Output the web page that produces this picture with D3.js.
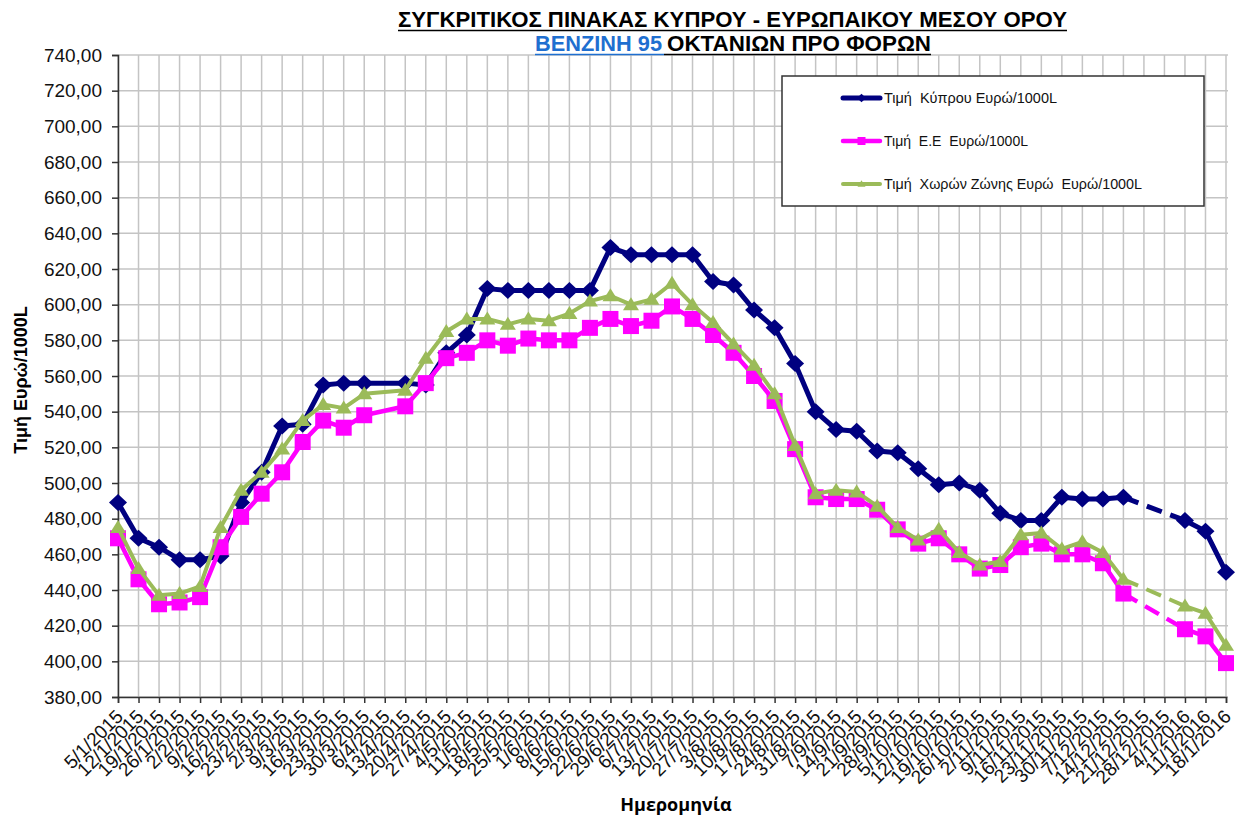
<!DOCTYPE html>
<html>
<head>
<meta charset="utf-8">
<script src="https://cdnjs.cloudflare.com/ajax/libs/d3/7.8.5/d3.min.js"></script>
<style>
body{margin:0;background:#fff;}
text{font-family:Arial,"Liberation Sans",sans-serif;}
</style>
</head>
<body>
<script>
// εβδομαδιαίες ημερομηνίες
var dates = ["5/1/2015","12/1/2015","19/1/2015","26/1/2015","2/2/2015","9/2/2015","16/2/2015","23/2/2015",
  "2/3/2015","9/3/2015","16/3/2015","23/3/2015","30/3/2015","6/4/2015","13/4/2015","20/4/2015","27/4/2015",
  "4/5/2015","11/5/2015","18/5/2015","25/5/2015","1/6/2015","8/6/2015","15/6/2015","22/6/2015","29/6/2015",
  "6/7/2015","13/7/2015","20/7/2015","27/7/2015","3/8/2015","10/8/2015","17/8/2015","24/8/2015","31/8/2015",
  "7/9/2015","14/9/2015","21/9/2015","28/9/2015","5/10/2015","12/10/2015","19/10/2015","26/10/2015",
  "2/11/2015","9/11/2015","16/11/2015","23/11/2015","30/11/2015","7/12/2015","14/12/2015","21/12/2015",
  "28/12/2015","4/1/2016","11/1/2016","18/1/2016"];

var cyprus = [489,469,464,457,457,459,489,506,532,533,555,556,556,null,556,555,573,583,609,608,608,608,608,608,
  632,628,628,628,628,613,611,597,587,567,540,530,529,518,517,508,499,500,496,483,479,479,492,491,491,492,
  null,null,479,473,450];
var eu = [469,446,432,433,436,464,481,494,506,523,535,531,538,null,543,556,570,573,580,577,581,580,580,587,
  592,588,591,599,592,583,573,560,546,519,492,491,491,485,474,466,469,460,452,454,464,466,460,460,455,438,
  null,null,418,414,399];
var zone = [475,452,437,438,442,475,496,506,519,535,544,542,550,null,552,570,585,592,592,589,592,591,595,602,
  605,600,603,612,600,590,578,566,550,521,494,496,495,487,475,468,474,461,454,456,471,472,463,467,461,446,
  null,null,431,427,409];

var seriesNames = ["Τιμή  Κύπρου Ευρώ/1000L","Τιμή  Ε.Ε  Ευρώ/1000L","Τιμή  Χωρών Ζώνης Ευρώ  Ευρώ/1000L"];
var yTicks = [380,400,420,440,460,480,500,520,540,560,580,600,620,640,660,680,700,720,740];
var dashedFrom = "14/12/2015"; // το κενό μετά από εδώ ενώνεται με διακεκομμένη

var width = 1238, height = 818;
var svg = d3.select("body").append("svg")
            .attr("width", width)
            .attr("height", height);

var x = d3.scalePoint().domain(dates).range([118, 1226]);
var y = d3.scaleLinear().domain([380, 740]).range([697, 55]);

var locale = d3.formatLocale({decimal: ",", thousands: ".", grouping: [3], currency: ["", "€"]});
var fmt = locale.format(".2f");

// πλέγμα
svg.append("g").selectAll("line.h").data(yTicks).enter().append("line")
   .attr("x1", 118).attr("x2", 1228)
   .attr("y1", function(d){ return y(d); }).attr("y2", function(d){ return y(d); })
   .attr("stroke", "#c4c4c4").attr("stroke-width", 1.5);
svg.append("g").selectAll("line.v").data(dates).enter().append("line")
   .attr("x1", function(d){ return x(d); }).attr("x2", function(d){ return x(d); })
   .attr("y1", 55).attr("y2", 697)
   .attr("stroke", "#c4c4c4").attr("stroke-width", 1.5);

// άξονες
var yAxis = svg.append("g").attr("transform", "translate(118,0)")
   .call(d3.axisLeft(y).tickValues(yTicks).tickSize(6).tickPadding(10).tickFormat(fmt));
yAxis.selectAll("text").attr("font-size", 19).attr("fill", "#111").style("font-family", "Arial, 'Liberation Sans'");

var xAxis = svg.append("g").attr("transform", "translate(0,697)")
   .call(d3.axisBottom(x).tickSize(6).tickFormat(""));
xAxis.selectAll(".tick").append("text")
   .attr("transform", "translate(1,16) rotate(-45)")
   .attr("text-anchor", "end")
   .attr("dy", "0.35em")
   .attr("font-size", 19)
   .attr("fill", "#111")
   .text(function(d){ return d; });

svg.selectAll(".domain").attr("stroke", "#333").attr("stroke-width", 1.5);
svg.selectAll(".tick line").attr("stroke", "#333").attr("stroke-width", 1.5);

// σειρές
var series = [
  {name: seriesNames[0], values: cyprus, color: "#000080", width: 5, shape: "diamond"},
  {name: seriesNames[1], values: eu, color: "#ff00ff", width: 4.5, shape: "square"},
  {name: seriesNames[2], values: zone, color: "#9bbb59", width: 4, shape: "triangle"}
];

var shapes = {
  diamond: "M0,-8.5L9,0L0,8.5L-9,0Z",
  square: "M-8,-8L8,-8L8,8L-8,8Z",
  triangle: "M0,-7.5L8,5.5L-8,5.5Z"
};

var line = d3.line()
  .x(function(p){ return x(p.d); })
  .y(function(p){ return y(p.v); });

series.forEach(function(s){
  var pts = dates.map(function(d, i){ return {d: d, v: s.values[i]}; })
                 .filter(function(p){ return p.v != null; });
  var k = pts.findIndex(function(p){ return p.d === dashedFrom; });
  var g = svg.append("g");
  [pts.slice(0, k + 1), pts.slice(k + 1)].forEach(function(part){
    g.append("path").attr("d", line(part))
     .attr("fill", "none").attr("stroke", s.color).attr("stroke-width", s.width)
     .attr("stroke-linejoin", "round");
  });
  g.append("path").attr("d", line(pts.slice(k, k + 2)))
   .attr("fill", "none").attr("stroke", s.color).attr("stroke-width", s.width)
   .attr("stroke-dasharray", "16,9");
  g.selectAll("path.m").data(pts).enter().append("path")
   .attr("d", shapes[s.shape])
   .attr("transform", function(p){ return "translate(" + x(p.d) + "," + y(p.v) + ")"; })
   .attr("fill", s.color);
});

// υπόμνημα
var legend = svg.append("g");
legend.append("rect").attr("x", 782).attr("y", 76).attr("width", 422).attr("height", 130)
      .attr("fill", "#fff").attr("stroke", "#333").attr("stroke-width", 1.5);
var legLens = [173, 144, 258];
series.forEach(function(s, i){
  var ly = 98 + i * 43;
  legend.append("line").attr("x1", 843).attr("x2", 880).attr("y1", ly).attr("y2", ly)
        .attr("stroke", s.color).attr("stroke-width", s.width).attr("stroke-linecap", "round");
  legend.append("path").attr("d", shapes[s.shape])
        .attr("transform", "translate(861.5," + ly + ") scale(0.5)").attr("fill", s.color);
  legend.append("text").attr("x", 884).attr("y", ly + 5)
        .attr("font-size", 14).attr("fill", "#111").style("white-space", "pre")
        .attr("textLength", legLens[i]).attr("lengthAdjust", "spacingAndGlyphs")
        .text(s.name);
});

// τίτλοι
svg.append("text").attr("x", 398).attr("y", 27)
   .attr("font-size", 22).attr("font-weight", "bold")
   .style("font-family", "'Liberation Sans Narrow', 'Arial Narrow', Arial")
   .attr("textLength", 669).attr("lengthAdjust", "spacingAndGlyphs")
   .text("ΣΥΓΚΡΙΤΙΚΟΣ ΠΙΝΑΚΑΣ ΚΥΠΡΟΥ - ΕΥΡΩΠΑΙΚΟΥ ΜΕΣΟΥ ΟΡΟΥ");
svg.append("line").attr("x1", 398).attr("x2", 1067).attr("y1", 30.5).attr("y2", 30.5)
   .attr("stroke", "#000").attr("stroke-width", 1.5);

svg.append("text").attr("x", 535).attr("y", 51)
   .attr("font-size", 22).attr("font-weight", "bold").attr("fill", "#1f6fd0")
   .style("font-family", "'Liberation Sans Narrow', 'Arial Narrow', Arial")
   .attr("textLength", 127).attr("lengthAdjust", "spacingAndGlyphs")
   .text("ΒΕΝΖΙΝΗ 95");
svg.append("text").attr("x", 667).attr("y", 51)
   .attr("font-size", 22).attr("font-weight", "bold")
   .style("font-family", "'Liberation Sans Narrow', 'Arial Narrow', Arial")
   .attr("textLength", 264).attr("lengthAdjust", "spacingAndGlyphs")
   .text("ΟΚΤΑΝΙΩΝ ΠΡΟ ΦΟΡΩΝ");
svg.append("line").attr("x1", 535).attr("x2", 664).attr("y1", 54.5).attr("y2", 54.5)
   .attr("stroke", "#1f6fd0").attr("stroke-width", 1.5);
svg.append("line").attr("x1", 664).attr("x2", 931).attr("y1", 54.5).attr("y2", 54.5)
   .attr("stroke", "#000").attr("stroke-width", 1.5);

svg.append("text")
   .attr("transform", "translate(27,380) rotate(-90)")
   .attr("text-anchor", "middle")
   .attr("font-size", 18).attr("font-weight", "bold")
   .text("Τιμή Ευρώ/1000L");

svg.append("text").attr("x", 676).attr("y", 811)
   .attr("text-anchor", "middle")
   .attr("font-size", 18).attr("font-weight", "bold")
   .style("font-family", "'Open Sans', 'Noto Sans', sans-serif")
   .text("Ημερομηνία");
</script>
</body>
</html>
